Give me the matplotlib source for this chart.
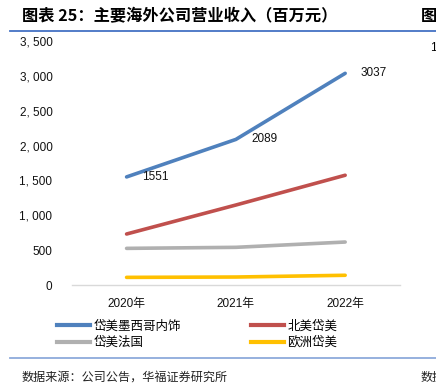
import matplotlib
matplotlib.use("Agg")
import matplotlib.pyplot as plt
from matplotlib.lines import Line2D
from matplotlib.ticker import FuncFormatter

years = ["2020年", "2021年", "2022年"]
series_names = ["岱美墨西哥内饰", "北美岱美", "岱美法国", "欧洲岱美"]
mexico = [1551, 2089, 3037]
north_america = [732, 1148, 1575]
france = [526, 541, 617]
europe = [110, 115, 140]
colors = ["#4F81BD", "#C0504D", "#B0B0B0", "#FFC000"]

FAM = ["Liberation Sans", "Noto Sans CJK SC", "DejaVu Sans"]
CJK = ["Noto Sans CJK SC", "DejaVu Sans"]
plt.rcParams["font.family"] = FAM

fig = plt.figure(figsize=(4.36, 3.91), dpi=100)
ax = fig.add_axes([0.165, 0.271, 0.752, 0.624])

x = list(range(len(years)))
all_series = [mexico, north_america, france, europe]
for vals, name, c in zip(all_series, series_names, colors):
    ax.plot(x, vals, color=c, lw=2.6, solid_capstyle="round", label=name)

for xi, v in zip(x, mexico):
    ax.annotate(str(v), (xi, v), xytext=(11, 0), textcoords="offset points",
                ha="left", va="center", fontsize=8.5, color="#111111")

ax.set_xlim(-0.5, 2.5)
ax.set_ylim(0, 3500)
ax.set_yticks(range(0, 3501, 500))
ax.yaxis.set_major_formatter(FuncFormatter(lambda v, p: f"{int(v):,}".replace(",", ", ")))
ax.set_xticks(x)
ax.set_xticklabels(years)
for s in ["top", "right", "left"]:
    ax.spines[s].set_visible(False)
ax.spines["bottom"].set_color("#D9D9D9")
ax.spines["bottom"].set_linewidth(1.0)
ax.tick_params(axis="both", length=0, labelsize=8.5, colors="#111111")
ax.tick_params(axis="y", pad=14)
ax.tick_params(axis="x", pad=9)

handles = [Line2D([], [], color=colors[i], lw=3) for i in [0, 2, 1, 3]]
labels = [series_names[i] for i in [0, 2, 1, 3]]
fig.legend(handles, labels, ncol=2, loc="upper left", bbox_to_anchor=(0.12, 0.195),
           frameon=False, prop={"family": CJK, "size": 9},
           handlelength=2.6, handletextpad=0.3, columnspacing=5.6,
           labelspacing=0.25, borderaxespad=0)

fig.text(22 / 436, 1 - 16 / 391, "图表 25：主要海外公司营业收入（百万元）",
         fontsize=11.7, fontweight="bold", family=CJK, va="center", ha="left")
fig.text(421 / 436, 1 - 16 / 391, "图", fontsize=11.7, fontweight="bold",
         family=CJK, va="center", ha="left")
fig.text(430 / 436, 1 - 48 / 391, "1", fontsize=8.5, va="center", ha="left")
fig.add_artist(Line2D([10 / 436, 1], [1 - 31 / 391, 1 - 31 / 391],
                      color="#4472C4", lw=1.3, transform=fig.transFigure))
fig.add_artist(Line2D([10 / 436, 1], [1 - 358 / 391, 1 - 358 / 391],
                      color="#8EAADB", lw=1.3, transform=fig.transFigure))
fig.text(22 / 436, 1 - 377 / 391, "数据来源：公司公告，华福证券研究所",
         fontsize=8.7, family=CJK, va="center", ha="left", color="#222222")
fig.text(421 / 436, 1 - 377 / 391, "数据", fontsize=8.7, family=CJK,
         va="center", ha="left", color="#222222")

fig.savefig("out.png", dpi=100)
